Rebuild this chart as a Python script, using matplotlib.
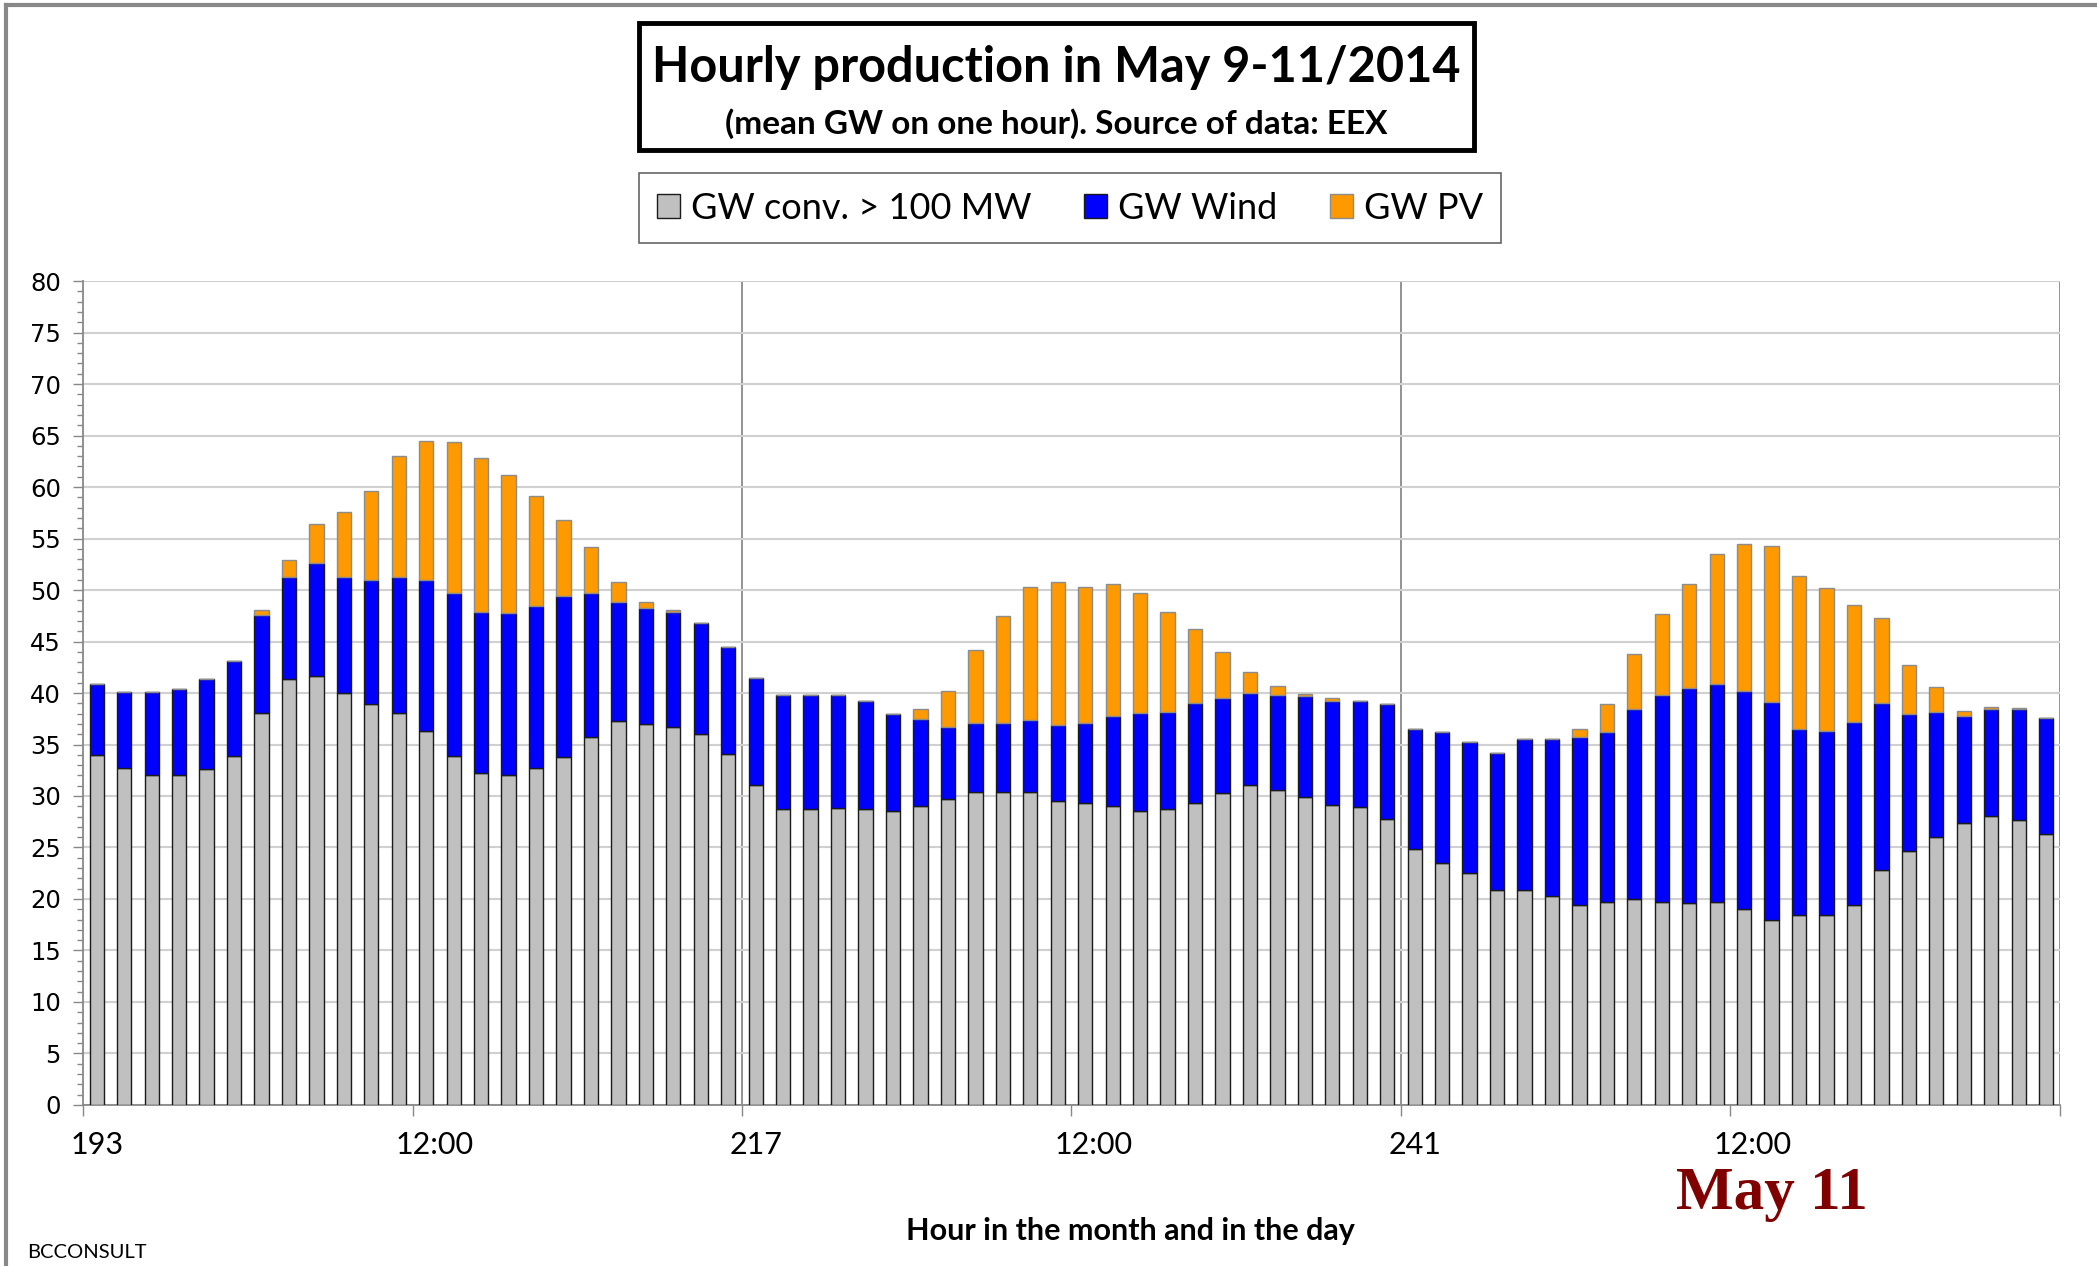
import numpy as np
import matplotlib
matplotlib.use("Agg")
import matplotlib.pyplot as plt
from matplotlib.ticker import MultipleLocator, FixedLocator

# hourly values (GW), hours 193..264
conv = [34.0, 32.7, 32.0, 32.0, 32.6, 33.9, 38.1, 41.4, 41.7, 40.0, 38.9, 38.1,
        36.3, 33.9, 32.2, 32.0, 32.7, 33.8, 35.7, 37.3, 37.0, 36.7, 36.0, 34.1,
        31.1, 28.7, 28.7, 28.8, 28.7, 28.5, 29.0, 29.7, 30.4, 30.4, 30.4, 29.5,
        29.3, 29.0, 28.5, 28.7, 29.3, 30.3, 31.1, 30.6, 29.9, 29.1, 28.9, 27.8,
        24.9, 23.5, 22.5, 20.9, 20.9, 20.3, 19.4, 19.7, 20.0, 19.7, 19.6, 19.7,
        19.0, 18.0, 18.4, 18.4, 19.4, 22.8, 24.7, 26.0, 27.4, 28.1, 27.7, 26.3]
conv_wind = [40.9, 40.1, 40.1, 40.4, 41.4, 43.1, 47.6, 51.3, 52.6, 51.3, 51.0, 51.3,
             51.0, 49.7, 47.9, 47.8, 48.4, 49.4, 49.7, 48.8, 48.3, 47.9, 46.8, 44.5,
             41.5, 39.8, 39.8, 39.8, 39.2, 38.0, 37.5, 36.7, 37.1, 37.1, 37.4, 36.9,
             37.1, 37.8, 38.1, 38.2, 39.0, 39.5, 40.0, 39.8, 39.7, 39.2, 39.2, 38.9,
             36.5, 36.2, 35.2, 34.2, 35.5, 35.5, 35.7, 36.2, 38.4, 39.8, 40.5, 40.9,
             40.2, 39.1, 36.5, 36.3, 37.2, 39.0, 38.0, 38.2, 37.8, 38.4, 38.4, 37.6]
total = [40.9, 40.1, 40.1, 40.4, 41.4, 43.1, 48.1, 52.9, 56.4, 57.6, 59.6, 63.0,
         64.5, 64.4, 62.8, 61.2, 59.1, 56.8, 54.2, 50.8, 48.8, 48.1, 46.8, 44.5,
         41.5, 39.8, 39.8, 39.8, 39.2, 38.0, 38.4, 40.2, 44.2, 47.5, 50.3, 50.8,
         50.3, 50.6, 49.7, 47.9, 46.2, 44.0, 42.0, 40.7, 39.9, 39.5, 39.2, 38.9,
         36.5, 36.2, 35.2, 34.2, 35.5, 35.5, 36.5, 38.9, 43.8, 47.7, 50.6, 53.5,
         54.5, 54.3, 51.4, 50.2, 48.5, 47.3, 42.7, 40.6, 38.3, 38.6, 38.5, 37.6]

conv = np.array(conv)
wind = np.array(conv_wind) - conv
pv = np.array(total) - np.array(conv_wind)

hours = np.arange(193, 193 + len(conv))
tick_labels = ["193", "12:00", "217", "12:00", "241", "12:00"]

cal = ["Lato", "DejaVu Sans"]

fig = plt.figure(figsize=(20.97, 12.66), dpi=100)
ax = fig.add_axes([0.0396, 0.1272, 0.9427, 0.6508])

x = np.arange(len(hours))
w = 0.52
ax.bar(x, conv, w, color="#C0C0C0", edgecolor="#1a1a1a", linewidth=1.0,
       label="GW conv. > 100 MW", zorder=3)
ax.bar(x, wind, w, bottom=conv, color="#0000FF", edgecolor="#1a1a1a", linewidth=1.0,
       label="GW Wind", zorder=3)
ax.bar(x, pv, w, bottom=conv + wind, color="#FF9900", edgecolor="#8c8c8c", linewidth=1.0,
       label="GW PV", zorder=3)

ax.set_xlim(-0.5, len(hours) - 0.5)
ax.set_ylim(0, 80)

# y axis
ax.yaxis.set_major_locator(MultipleLocator(5))
ax.yaxis.set_minor_locator(MultipleLocator(1))
ax.tick_params(axis="y", which="major", length=7, width=1, color="#888888",
               labelsize=17.5, pad=9)
ax.tick_params(axis="y", which="minor", length=4, width=1, color="#888888")
ax.grid(axis="y", which="major", color="#d0d0d0", linewidth=1.5, zorder=0)

# x axis: labels every 12 hours, ticks on category boundaries
# the "12:00" labels sit a little right of their category in the original
shift = np.array([0.3 if t == "12:00" else 0.0 for t in tick_labels])
ax.xaxis.set_major_locator(FixedLocator(x[::12] + shift))
ax.set_xticklabels(tick_labels)
ax.xaxis.set_minor_locator(FixedLocator(np.arange(-0.5, len(hours), 12)))
ax.tick_params(axis="x", which="major", length=0, pad=19)
ax.tick_params(axis="x", which="minor", length=8, width=1, color="#888888")
for lab in ax.get_xticklabels():
    lab.set_family(cal)
    lab.set_fontsize(22)

# day separators
for b in [23.5, 47.5, 71.5]:
    ax.axvline(b, color="#8a8a8a", linewidth=1.3, zorder=1)

for s in ["top", "right"]:
    ax.spines[s].set_visible(False)
ax.spines["left"].set_color("#888888")
ax.spines["bottom"].set_color("#888888")
ax.spines["left"].set_linewidth(1.3)
ax.spines["bottom"].set_linewidth(1.3)

# title in a box
fig.patches.append(plt.Rectangle((0.3047, 0.8815), 0.3982, 0.1003, transform=fig.transFigure,
                                 fill=False, edgecolor="black", linewidth=3.5))
fig.text(0.5035, 0.947, "Hourly production in May 9-11/2014", ha="center", va="center",
         fontsize=35, fontweight="bold", family=cal)
fig.text(0.5035, 0.902, "(mean GW on one hour). Source of data: EEX", ha="center", va="center",
         fontsize=24, fontweight="bold", family=cal)

leg = fig.legend(loc="center", bbox_to_anchor=(0.5102, 0.8357), ncol=3,
                 prop={"family": cal, "size": 26}, frameon=True, fancybox=False,
                 handlelength=0.65, handleheight=0.65, handletextpad=0.3,
                 columnspacing=1.45, borderpad=0.5, borderaxespad=0)
leg.get_frame().set_edgecolor("#404040")
leg.get_frame().set_linewidth(1.2)

fig.text(0.539, 0.028, "Hour in the month and in the day", ha="center", va="center",
         fontsize=22, fontweight="bold", family=cal)
fig.text(0.845, 0.057, "May 11", ha="center", va="center", fontsize=44,
         fontweight="bold", family="Liberation Serif", color="#800000")
fig.text(0.013, 0.0103, "BCCONSULT", ha="left", va="center", fontsize=14.5, family=cal)

# outer frame (top and left edges)
fig.lines.append(plt.Line2D([0.003, 0.003], [0, 0.996], transform=fig.transFigure,
                            color="#888888", linewidth=3))
fig.lines.append(plt.Line2D([0.003, 1], [0.996, 0.996], transform=fig.transFigure,
                            color="#888888", linewidth=3))

fig.savefig("out.png", dpi=100, facecolor="white")
